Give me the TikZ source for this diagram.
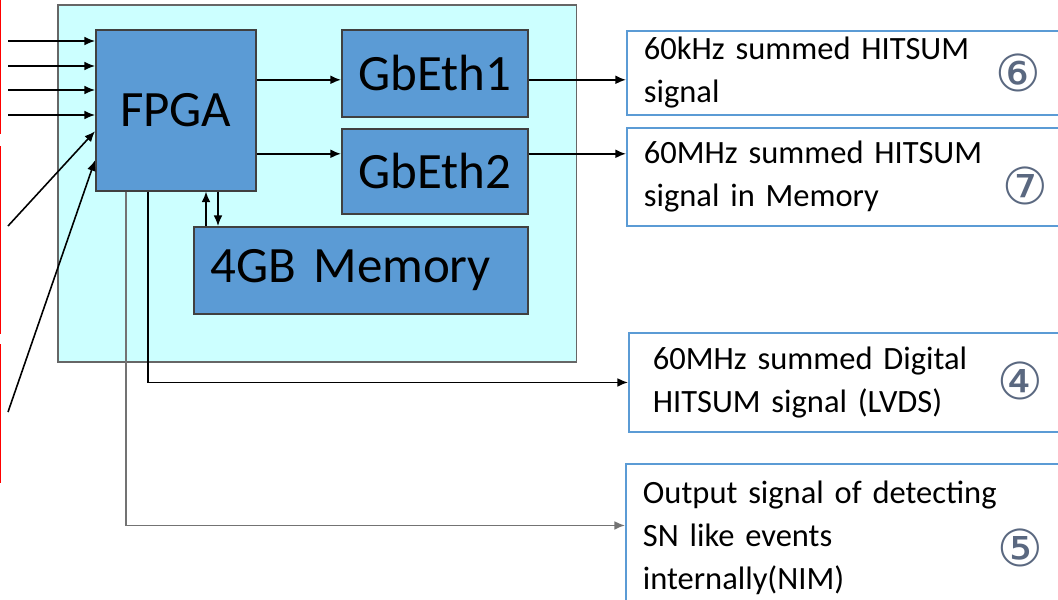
\documentclass[tikz,border=0pt]{standalone}
\usepackage{fontspec}
\setmainfont{Carlito}
\newfontfamily\circfont{DejaVu Sans}
\usepackage{xcolor}
\usetikzlibrary{arrows.meta}
\definecolor{boardcyan}{HTML}{CCFFFF}
\definecolor{chipblue}{HTML}{5B9BD5}
\definecolor{numgray}{HTML}{5A6880}

\begin{document}
\begin{tikzpicture}[x=0.02cm, y=-0.02cm, >={Latex[length=6pt,width=5pt]},
    chip/.style={draw=black!75, fill=chipblue, line width=0.9pt, anchor=north west, inner sep=0pt, font=\fontsize{29}{32}\selectfont},
    outbox/.style={draw=chipblue, fill=white, line width=1.1pt, anchor=north west, inner ysep=0pt, align=left, font=\fontsize{18.5}{24.5}\selectfont},
    circnum/.style={text=numgray, inner sep=0pt, font=\circfont\fontsize{29}{29}\selectfont},
    sig/.style={->, line width=0.9pt}]
      \useasboundingbox (0,0) rectangle (1058,599);

      % red frames of the input sources, cut by the page edge
      \draw[red, line width=0.4pt] (-20,-10) rectangle (0.5,133);
      \draw[red, line width=0.4pt] (-20,146) rectangle (0.5,333);
      \draw[red, line width=0.4pt] (-20,344) rectangle (0.5,482);

      % board
      \node[draw=black!60, fill=boardcyan, line width=0.9pt, anchor=north west, inner sep=0pt,
            minimum width=10.38cm, minimum height=7.14cm] (board) at (57,4) {};

      \node[chip, minimum width=3.2cm, minimum height=3.22cm] (fpga) at (95,29) {FPGA};
      \node[chip, minimum width=3.72cm, minimum height=1.74cm] (gb1) at (341,29) {GbEth1};
      \node[chip, minimum width=3.72cm, minimum height=1.70cm] (gb2) at (341,128) {GbEth2};
      \node[chip, minimum height=1.74cm, inner xsep=0.34cm, text width=6cm, align=left] (mem) at (193,226) {4GB Memory};

      % outputs
      \node[outbox, inner xsep=0.34cm, text width=8.2cm, minimum height=1.68cm] (out6) at (626,30)
        {60kHz summed HITSUM\\signal};
      \node[outbox, inner xsep=0.34cm, text width=8.2cm, minimum height=1.96cm] (out7) at (626,127)
        {60MHz summed HITSUM\\signal in Memory};
      \node[outbox, inner xsep=0.48cm, text width=7.88cm, minimum height=1.98cm] (out4) at (628,332)
        {60MHz summed Digital\\HITSUM signal (LVDS)};
      \node[outbox, inner xsep=0.34cm, text width=8.22cm, minimum height=2.94cm] (out5) at (625,463)
        {Output signal of detecting\\SN like events\\internally(NIM)};

      \node[circnum] (c6) at (1018,73) {⑥};
      \node[circnum] (c7) at (1025,186) {⑦};
      \node[circnum] (c4) at (1020,381) {④};
      \node[circnum] (c5) at (1020,548) {⑤};

      % inputs to the FPGA
      \foreach \y [count=\i] in {41,66,90,115} {
        \coordinate (in\i) at (8,\y);
        \draw[sig] (in\i) -- (fpga.west |- in\i);
      }
      \coordinate (in5) at (8,226);
      \coordinate (in6) at (8,412);
      \draw[sig] (in5) -- ([yshift=-0.42cm]fpga.west);
      \draw[sig] (in6) -- ([yshift=-1.0cm]fpga.west);

      % FPGA to GbEth and outputs
      \path ([yshift=-0.13cm]gb1.west) coordinate (g1in);
      \path ([yshift=0.35cm]gb2.west) coordinate (g2in);
      \draw[sig] (fpga.east |- g1in) -- (g1in);
      \draw[sig] (fpga.east |- g2in) -- (g2in);
      \draw[sig] (gb1.east |- g1in) -- (out6.west |- g1in);
      \draw[sig] (gb2.east |- g2in) -- (out7.west |- g2in);

      % memory
      \draw[sig] ([xshift=0.26cm]mem.north west) -- ([xshift=0.26cm]mem.north west |- fpga.south);
      \draw[sig] ([xshift=0.50cm]mem.north west |- fpga.south) -- ([xshift=0.50cm]mem.north west);

      % direct outputs
      \draw[sig] ([xshift=1.06cm]fpga.south west) |- (out4.west);
      \draw[sig, black!55] ([xshift=0.62cm]fpga.south west) |- ([yshift=0.24cm]out5.west);
\end{tikzpicture}
\end{document}
